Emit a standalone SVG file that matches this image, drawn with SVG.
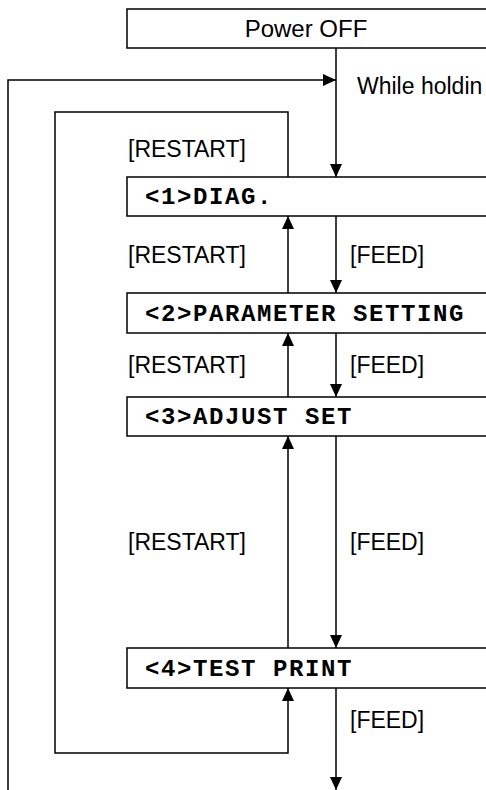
<svg xmlns="http://www.w3.org/2000/svg" width="486" height="790" viewBox="0 0 486 790">
<defs>
<marker id="ah" viewBox="0 0 13 12" refX="13" refY="6" markerWidth="13" markerHeight="12" markerUnits="userSpaceOnUse" orient="auto">
<path d="M0,0 L13,6 L0,12 Z" fill="#000"/>
</marker>
<style>
.box{fill:#fff;stroke:#000;stroke-width:1.5}
.ln{fill:none;stroke:#000;stroke-width:1.5}
.sans{font-family:"Liberation Sans",Arial,sans-serif;font-size:23px;fill:#000}
.mono{font-family:"Liberation Mono","Courier New",monospace;font-size:24px;letter-spacing:1.6px;font-weight:bold;fill:#000}
</style>
</defs>
<rect width="486" height="790" fill="#fff"/>
<g id="connectors">
<path class="ln" d="M336,48 V177" marker-end="url(#ah)"/>
<path class="ln" d="M8,790 V80 H336" marker-end="url(#ah)"/>
<path class="ln" d="M288,177 V112 H55 V753 H288 V688" marker-end="url(#ah)"/>
<path class="ln" d="M336,216 V293" marker-end="url(#ah)"/>
<path class="ln" d="M288,293 V216" marker-end="url(#ah)"/>
<path class="ln" d="M336,333 V397" marker-end="url(#ah)"/>
<path class="ln" d="M288,397 V333" marker-end="url(#ah)"/>
<path class="ln" d="M336,436 V648" marker-end="url(#ah)"/>
<path class="ln" d="M288,648 V436" marker-end="url(#ah)"/>
<path class="ln" d="M336,688 V790" marker-end="url(#ah)"/>
<text class="sans" x="357" y="94">While holdin</text>
<text class="sans" x="128" y="157">[RESTART]</text>
<text class="sans" x="128" y="263">[RESTART]</text>
<text class="sans" x="350" y="263">[FEED]</text>
<text class="sans" x="128" y="373">[RESTART]</text>
<text class="sans" x="350" y="373">[FEED]</text>
<text class="sans" x="128" y="550">[RESTART]</text>
<text class="sans" x="350" y="550">[FEED]</text>
<text class="sans" x="350" y="728">[FEED]</text>
</g>
<g id="power-off">
<rect class="box" x="127" y="9" width="400" height="39"/>
<text class="sans" x="306" y="37" text-anchor="middle" style="font-size:24px">Power OFF</text>
</g>
<g id="diag">
<rect class="box" x="127" y="177" width="400" height="39"/>
<text class="mono" x="145" y="204">&lt;1&gt;DIAG.</text>
</g>
<g id="parameter-setting">
<rect class="box" x="127" y="293" width="400" height="40"/>
<text class="mono" x="145" y="321">&lt;2&gt;PARAMETER SETTING</text>
</g>
<g id="adjust-set">
<rect class="box" x="127" y="397" width="400" height="39"/>
<text class="mono" x="145" y="424">&lt;3&gt;ADJUST SET</text>
</g>
<g id="test-print">
<rect class="box" x="127" y="648" width="400" height="40"/>
<text class="mono" x="145" y="676">&lt;4&gt;TEST PRINT</text>
</g>
</svg>
